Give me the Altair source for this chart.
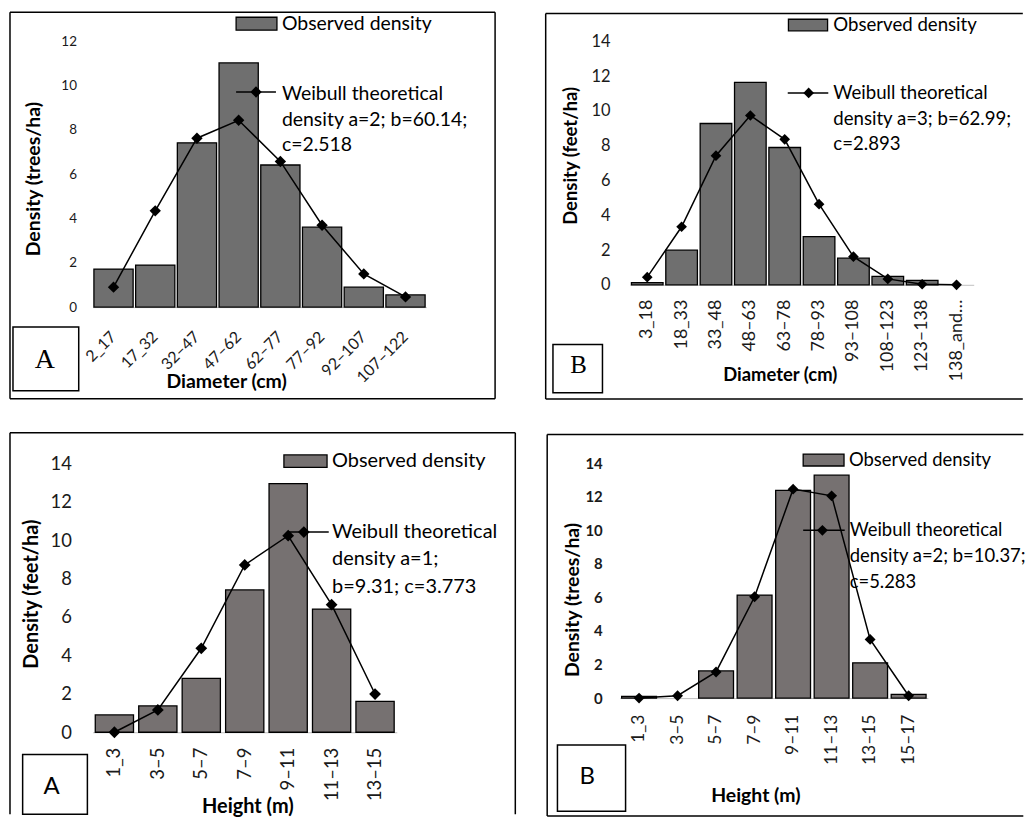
import altair as alt
import pandas as pd

# ---------------- data ----------------
# Panel 1: diameter, site A
dia_a_classes = ["2_17", "17_32", "32–47", "47–62", "62–77", "77–92", "92–107", "107–122"]
dia_a_observed = [1.72, 1.9, 7.42, 11.03, 6.42, 3.61, 0.9, 0.55]
dia_a_weibull = [0.9, 4.35, 7.63, 8.44, 6.58, 3.7, 1.5, 0.46]

# Panel 2: diameter, site B
dia_b_classes = ["3_18", "18_33", "33_48", "48–63", "63–78", "78–93", "93–108", "108–123", "123–138", "138_and…"]
dia_b_observed = [0.13, 1.99, 9.28, 11.65, 7.9, 2.77, 1.53, 0.48, 0.25, 0.0]
dia_b_weibull = [0.44, 3.34, 7.43, 9.74, 8.37, 4.64, 1.62, 0.34, 0.03, 0.0]

# Panel 3: height, site A
hei_a_classes = ["1_3", "3–5", "5–7", "7–9", "9–11", "11–13", "13–15"]
hei_a_observed = [0.9, 1.37, 2.8, 7.41, 12.94, 6.41, 1.61]
hei_a_weibull = [0.0, 1.16, 4.37, 8.71, 10.23, 6.64, 1.99]

# Panel 4: height, site B
hei_b_classes = ["1_3", "3–5", "5–7", "7–9", "9–11", "11–13", "13–15", "15–17"]
hei_b_observed = [0.1, 0.0, 1.62, 6.14, 12.38, 13.29, 2.1, 0.22]
hei_b_weibull = [0.0, 0.14, 1.56, 6.04, 12.46, 12.06, 3.5, 0.14]

legend_observed = "Observed density"
legend_weibull = [
    ["Weibull theoretical", "density a=2; b=60.14;", "c=2.518"],
    ["Weibull theoretical", "density a=3; b=62.99;", "c=2.893"],
    ["Weibull theoretical", "density a=1;", "b=9.31; c=3.773"],
    ["Weibull theoretical", "density a=2; b=10.37;", "c=5.283"],
]

FONT = "Lato"
SERIF = "Liberation Serif"
LBLC = "#1a1a1a"
one = pd.DataFrame({"k": [0]})


def deco_rect(x, x2, y, y2, fill, stroke="black", sw=1.5, fo=1.0):
    return alt.Chart(one).mark_rect(fill=fill, fillOpacity=fo, stroke=stroke, strokeWidth=sw).encode(
        x=alt.value(x), x2=alt.value(x2), y=alt.value(y), y2=alt.value(y2))


def hrule(x, x2, y, sw=1.5):
    return alt.Chart(one).mark_rule(color="black", strokeWidth=sw).encode(
        x=alt.value(x), x2=alt.value(x2), y=alt.value(y))


def vrule(x, y, y2, sw=1.5):
    return alt.Chart(one).mark_rule(color="black", strokeWidth=sw).encode(
        x=alt.value(x), y=alt.value(y), y2=alt.value(y2))


def text(t, x, y, size, font=FONT, weight="normal", align="left", lh=None):
    kw = dict(font=font, fontSize=size, fontWeight=weight, align=align, baseline="alphabetic", color="black")
    if lh is not None:
        kw["lineHeight"] = lh
    return alt.Chart(one).mark_text(text=t, **kw).encode(x=alt.value(x), y=alt.value(y))


def panel(classes, observed, weibull, c, wlines):
    df = pd.DataFrame({"cls": classes, "obs": observed, "wei": weibull})
    xs = alt.Scale(domain=classes, paddingInner=c["pi"], paddingOuter=c["pi"] / 2)
    ys = alt.Scale(domain=[0, c["ymax"]], nice=False)
    xaxis = alt.Axis(
        title=c["xtitle"], labelAngle=c["xang"], labelAlign="right", labelBaseline="middle",
        labelFont=FONT, labelFontSize=c["xls"], labelColor=LBLC, labelPadding=c["xlp"],
        labelOverlap=False, ticks=False, tickSize=0, domain=True, domainColor="#bfbfbf", domainWidth=1,
        grid=False, titleFont=FONT, titleFontSize=c["xts"], titleFontWeight="bold", titleColor="black",
        titleX=c["xtx"], titleY=c["xty"], titleAlign="center", titleBaseline="alphabetic")
    yaxis = alt.Axis(
        title=c["ytitle"], values=list(range(0, c["ymax"] + 1, 2)), ticks=False, tickSize=0,
        domain=False, grid=False, labelFont=FONT, labelFontSize=c["yls"], labelFontWeight=c["ylw"],
        labelColor=LBLC, labelPadding=c["ylp"], titleFont=FONT, titleFontSize=c["yts"],
        titleFontWeight="bold", titleColor="black", titleX=c["ytx"], titleY=c["yty"],
        titleAngle=270, titleAlign="center", titleBaseline="middle")
    X = alt.X("cls:N", scale=xs, axis=xaxis, sort=classes)

    layers = []
    # legend texts (behind the bars)
    layers.append(text(legend_observed, c["lt_x"], c["lt_y"], c["lfs"]))
    layers.append(text(wlines, c["wt_x"], c["wt_y"], c["lfs"], lh=c["wlh"]))
    # bars
    layers.append(alt.Chart(df).transform_filter("datum.obs > 0").mark_bar(
        fill=c["bar"], stroke="black", strokeWidth=1.3).encode(
        x=X, y=alt.Y("obs:Q", scale=ys, axis=yaxis)))
    # Weibull line + diamonds
    layers.append(alt.Chart(df).mark_line(color="black", strokeWidth=1.5).encode(
        x=X, y=alt.Y("wei:Q", scale=ys, axis=yaxis)))
    layers.append(alt.Chart(df).mark_point(shape="diamond", filled=True, color="black", opacity=1,
                                           size=c["ds"]).encode(
        x=X, y=alt.Y("wei:Q", scale=ys, axis=yaxis)))
    # legend symbols
    sx, sx2, sy, sy2 = c["sw"]
    layers.append(deco_rect(sx, sx2, sy, sy2, c["bar"], sw=1.3))
    rx, rx2, ry, dx = c["wl"]
    layers.append(hrule(rx, rx2, ry))
    layers.append(alt.Chart(one).mark_point(shape="diamond", filled=True, color="black", opacity=1,
                                            size=c["ds"]).encode(x=alt.value(dx), y=alt.value(ry)))
    # frame
    bx, bx2, by, by2 = c["frame"]
    sides = c["sides"]
    if "t" in sides:
        layers.append(hrule(bx, bx2, by))
    if "b" in sides:
        layers.append(hrule(bx, bx2, by2))
    if "l" in sides:
        layers.append(vrule(bx, by, by2))
    if "r" in sides:
        layers.append(vrule(bx2, by, by2))
    # panel letter box
    kx, kx2, ky, ky2 = c["box"]
    layers.append(deco_rect(kx, kx2, ky, ky2, "white", sw=1.5))
    layers.append(text(c["letter"], c["let_x"], c["let_y"], c["let_fs"], font=c["let_font"], align="center"))

    return alt.layer(*layers).properties(width=c["W"], height=c["H"])


c1 = dict(W=335, H=266.7, ymax=12, pi=0.06, bar="#6f6f6f", ds=130,
          xtitle="Diameter (cm)", ytitle="Density (trees/ha)",
          xang=-45, xls=16, xlp=27, xts=19.5, xtx=134, xty=81,
          yls=13.5, ylw="normal", ylp=16.3, yts=19.5, ytx=-59, yty=137.7,
          lfs=19.5, lt_x=190, lt_y=-11.6, wt_x=190, wt_y=58.4, wlh=26,
          sw=(144, 185, -24.3, -11.3), wl=(144, 184, 50.7, 164),
          frame=(-83, 404, -29.3, 358.7), sides="tblr",
          box=(-80, -14, 286.7, 350.7), letter="A", let_x=-48, let_y=327.4, let_fs=28, let_font=SERIF)

c2 = dict(W=345, H=244.3, ymax=14, pi=0.08, bar="#6f6f6f", ds=115,
          xtitle="Diameter (cm)", ytitle="Density (feet/ha)",
          xang=-90, xls=18, xlp=14.4, xts=18.5, xtx=150.3, xty=95.7,
          yls=16.5, ylw="normal", ylp=20, yts=18.5, ytx=-60, yty=114.3,
          lfs=18.7, lt_x=204, lt_y=-10.7, wt_x=204, wt_y=57.7, wlh=25.8,
          sw=(159, 198.3, -22.3, -10.7), wl=(158.3, 199, 51.7, 179.3),
          frame=(-84.7, 394.3, -28, 359), sides="tbl",
          box=(-77.4, -27.7, 304.3, 352.7), letter="B", let_x=-51.7, let_y=332.7, let_fs=25, let_font=SERIF)

c3 = dict(W=305.3, H=270, ymax=14, pi=0.12, bar="#767171", ds=140,
          xtitle="Height (m)", ytitle="Density (feet/ha)",
          xang=-90, xls=18.5, xlp=15, xts=20, xtx=155.3, xty=80.3,
          yls=18.5, ylw="normal", ylp=21.3, yts=20, ytx=-61.3, yty=130.8,
          lfs=20, lt_x=240.3, lt_y=3.3, wt_x=240.3, wt_y=75, wlh=27.5,
          sw=(192, 235.3, -8.4, 4), wl=(197, 237, 69, 212),
          frame=(-83, 424.3, -30.7, 352.3), sides="tlr",
          box=(-70.3, -5.3, 292.3, 352.3), letter="A", let_x=-41.3, let_y=331.6, let_fs=24, let_font=FONT)

c4 = dict(W=309.3, H=235.7, ymax=14, pi=0.095, bar="#767171", ds=120,
          xtitle="Height (m)", ytitle="Density (trees/ha)",
          xang=-90, xls=17.5, xlp=16, xts=19.5, xtx=136.1, xty=104.3,
          yls=15, ylw="bold", ylp=17.6, yts=19.5, ytx=-47.6, yty=136.7,
          lfs=18.5, lt_x=230.1, lt_y=2.7, wt_x=230.8, wt_y=73.3, wlh=26,
          sw=(184.1, 225.1, -9.3, 2.7), wl=(184.1, 225.8, 67.3, 203.4),
          frame=(-72.9, 405.1, -29, 354), sides="tbl",
          box=(-62.6, 5.8, 282.7, 349.3), letter="B", let_x=-32.6, let_y=321.7, let_fs=24, let_font=FONT)

p1 = panel(dia_a_classes, dia_a_observed, dia_a_weibull, c1, legend_weibull[0])
p2 = panel(dia_b_classes, dia_b_observed, dia_b_weibull, c2, legend_weibull[1])
p3 = panel(hei_a_classes, hei_a_observed, hei_a_weibull, c3, legend_weibull[2])
p4 = panel(hei_b_classes, hei_b_observed, hei_b_weibull, c4, legend_weibull[3])

row1 = alt.hconcat(p1, p2, spacing=48.5)
row2 = alt.hconcat(p3, p4, spacing=29.2)
chart = alt.vconcat(row1, row2, spacing=31.5).properties(
    padding={"left": 1, "top": 1, "right": 0, "bottom": 0},
    background="white",
).configure_view(strokeWidth=0)

chart.save("out.html", embed_options={"renderer": "svg", "actions": False})
